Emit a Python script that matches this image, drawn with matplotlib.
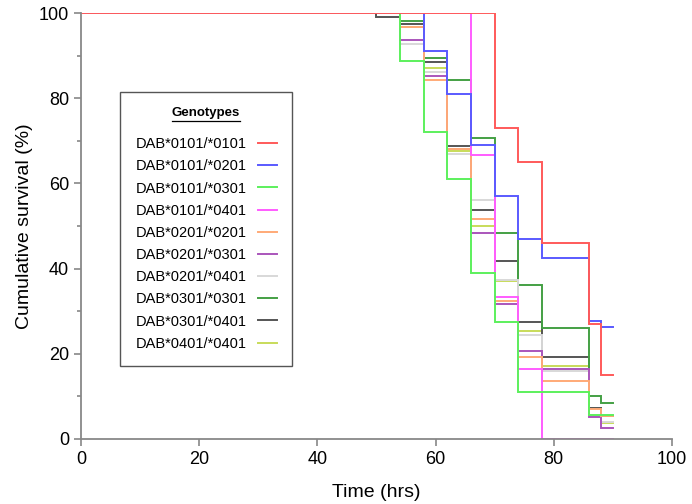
import matplotlib
matplotlib.use("Agg")
import matplotlib.pyplot as plt
from matplotlib.lines import Line2D
from matplotlib.ticker import MultipleLocator

plt.rcParams['font.family'] = ['Liberation Sans', 'DejaVu Sans']

# observation times (hrs); each value holds until the next time, last one until 90
times = [0, 50, 54, 58, 62, 66, 70, 74, 78, 86, 88]
t_end = 90

genotypes = ["DAB*0101/*0101", "DAB*0101/*0201", "DAB*0101/*0301", "DAB*0101/*0401",
             "DAB*0201/*0201", "DAB*0201/*0301", "DAB*0201/*0401", "DAB*0301/*0301",
             "DAB*0301/*0401", "DAB*0401/*0401"]

s_0101_0101 = [100, 100, 100, 100, 100, 100, 73, 65, 46, 27, 15]
s_0101_0201 = [100, 100, 100, 91, 81, 69, 57, 47, 42.6, 27.8, 26.2]
s_0101_0301 = [100, 100, 88.8, 72, 61, 39, 27.5, 11.1, 11.1, 5.6, 5.6]
s_0101_0401 = [100, 100, 100, 100, 100, 66.7, 33.4, 16.4, 0, 0, 0]
s_0201_0201 = [100, 100, 96.8, 84.2, 68, 51.6, 32.4, 19.3, 13.7, 7, 5.5]
s_0201_0301 = [100, 100, 93.7, 85.3, 68, 48.3, 31.8, 20.7, 16.4, 5.2, 2.5]
s_0201_0401 = [100, 100, 92.8, 86.2, 67, 56.1, 37.3, 24.4, 16, 5.5, 4]
s_0301_0301 = [100, 100, 98.1, 89.5, 84.3, 70.6, 48.4, 36.2, 26, 10.2, 8.5]
s_0301_0401 = [100, 99.2, 97.5, 88.6, 68.9, 53.8, 41.8, 27.5, 19.3, 7.3, 5.5]
s_0401_0401 = [100, 100, 96.8, 87, 67.7, 50, 37.1, 25.3, 17.2, 7.3, 3.7]

series = [s_0101_0101, s_0101_0201, s_0101_0301, s_0101_0401, s_0201_0201,
          s_0201_0301, s_0201_0401, s_0301_0301, s_0301_0401, s_0401_0401]
colors = ["#ff5a5a", "#5a5aff", "#5cf05c", "#ff5cff", "#ffaa77",
          "#aa55bb", "#d8d8d8", "#44a044", "#555555", "#c8dc5a"]

fig = plt.figure(figsize=(6.92, 5.04), dpi=100)
ax = fig.add_axes([0.117, 0.129, 0.854, 0.845])

# draw back to front so the red line ends up on top
for vals, col, lab in reversed(list(zip(series, colors, genotypes))):
    ax.step(times + [t_end], vals + [vals[-1]], where='post', color=col,
            lw=1.4, label=lab, solid_joinstyle='miter')

ax.set_xlim(0, 100)
ax.set_ylim(0, 100)
ax.xaxis.set_major_locator(MultipleLocator(20))
ax.yaxis.set_major_locator(MultipleLocator(20))
ax.yaxis.set_minor_locator(MultipleLocator(10))
for sp in ['top', 'right']:
    ax.spines[sp].set_visible(False)
for sp in ['left', 'bottom']:
    ax.spines[sp].set_color('#888888')
    ax.spines[sp].set_linewidth(1.3)
ax.tick_params(which='both', colors='#888888', labelcolor='black', labelsize=13, width=1.2)
ax.tick_params(which='major', length=5)
ax.tick_params(which='minor', length=3)
ax.set_xlabel("Time (hrs)", fontsize=14, labelpad=12)
ax.set_ylabel("Cumulative survival (%)", fontsize=14, labelpad=4)

handles = [Line2D([], [], color=c, lw=1.4) for c in colors]
leg = ax.legend(handles, genotypes, loc='upper left', bbox_to_anchor=(0.066, 0.815),
                borderaxespad=0, markerfirst=False, fancybox=False, framealpha=1,
                edgecolor='#555555', fontsize=10.5, handlelength=1.3, handletextpad=0.8,
                labelspacing=0.56, borderpad=1.05, title="Genotypes",
                title_fontproperties={'weight': 'bold', 'size': 9.5})
leg.get_frame().set_linewidth(1.0)
leg._legend_box.sep = 13

# underline the legend title
fig.canvas.draw()
bb = leg.get_title().get_window_extent(fig.canvas.get_renderer())
bb = bb.transformed(fig.transFigure.inverted())
fig.add_artist(Line2D([bb.x0, bb.x1], [bb.y0 - 0.003, bb.y0 - 0.003],
                      color='black', lw=0.9, transform=fig.transFigure))

fig.savefig("out.png", dpi=100)
